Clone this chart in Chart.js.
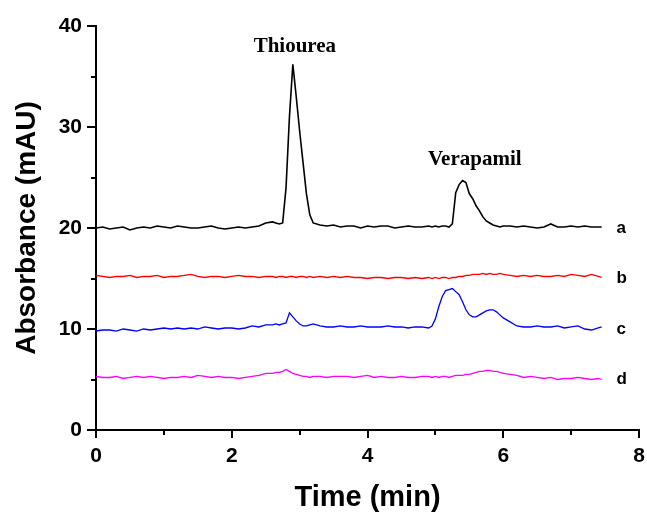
<!DOCTYPE html>
<html>
<head>
<meta charset="utf-8">
<script src="https://cdn.jsdelivr.net/npm/chart.js@4.4.0/dist/chart.umd.min.js"></script>
<style>
  html, body { margin: 0; padding: 0; background: #fff; }
</style>
</head>
<body>
<canvas id="chromatogram" width="647" height="512"></canvas>
<script>
// retention time (min), shared by all four traces
const times = [
  0, 0.1, 0.2, 0.3, 0.4, 0.5, 0.6, 0.7, 0.8, 0.9, 1.0, 1.1, 1.2, 1.3, 1.4, 1.5, 1.6, 1.7, 1.8, 1.9, 2.0, 2.1, 2.2, 2.3, 2.4, 2.5,
  2.6, 2.65, 2.7, 2.75, 2.8, 2.85, 2.9, 2.95, 3.0, 3.05, 3.1, 3.15, 3.2,
  3.3, 3.4, 3.5, 3.6, 3.7, 3.8, 3.9, 4.0, 4.1, 4.2, 4.3, 4.4, 4.5, 4.6, 4.7, 4.8, 4.9,
  4.95, 5.0, 5.05, 5.1, 5.15, 5.2, 5.25, 5.3, 5.35, 5.4, 5.45, 5.5, 5.55, 5.6, 5.65, 5.7, 5.75, 5.8, 5.85, 5.9, 5.95, 6.0,
  6.1, 6.2, 6.3, 6.4, 6.5, 6.6, 6.7, 6.8, 6.9, 7.0, 7.1, 7.2, 7.3, 7.4, 7.45
];

// absorbance (mAU) for traces a-d
const traceA = [
  20.0, 20.1, 19.9, 20.0, 20.1, 19.8, 20.0, 20.1, 20.0, 20.2, 20.1, 20.0, 20.2, 20.1, 20.0, 20.0, 20.1, 20.2, 20.0, 19.9, 20.0, 20.1, 20.0, 20.1, 20.2, 20.5,
  20.6, 20.5, 20.4, 20.5, 24.0, 31.0, 36.2, 33.0, 29.6, 26.5, 23.4, 21.3, 20.5,
  20.3, 20.2, 20.3, 20.1, 20.2, 20.2, 20.0, 20.2, 20.1, 20.2, 20.2, 20.0, 20.1, 20.2, 20.1, 20.1, 20.2,
  20.1, 20.2, 20.1, 20.2, 20.2, 20.1, 20.4, 23.5, 24.3, 24.7, 24.5, 23.4, 22.9, 22.2, 21.7, 21.1, 20.7, 20.5, 20.3, 20.2, 20.1, 20.2,
  20.2, 20.1, 20.2, 20.1, 20.0, 20.1, 20.4, 20.1, 20.1, 20.2, 20.1, 20.2, 20.1, 20.1, 20.1
];
const traceB = [
  15.3, 15.2, 15.1, 15.2, 15.2, 15.3, 15.1, 15.2, 15.2, 15.3, 15.1, 15.2, 15.2, 15.3, 15.4, 15.2, 15.1, 15.2, 15.2, 15.1, 15.2, 15.3, 15.2, 15.2, 15.1, 15.2,
  15.2, 15.1, 15.2, 15.2, 15.1, 15.2, 15.2, 15.1, 15.2, 15.2, 15.1, 15.2, 15.1,
  15.2, 15.1, 15.2, 15.1, 15.2, 15.1, 15.1, 15.0, 15.1, 15.1, 15.0, 15.1, 15.1, 15.0, 15.1, 15.0, 15.1,
  15.0, 15.1, 15.0, 15.1, 15.1, 15.0, 15.1, 15.1, 15.2, 15.2, 15.3, 15.3, 15.4, 15.4, 15.4, 15.5, 15.4, 15.5, 15.4, 15.4, 15.5, 15.4,
  15.3, 15.2, 15.3, 15.2, 15.3, 15.2, 15.2, 15.3, 15.2, 15.4, 15.3, 15.2, 15.4, 15.2, 15.1
];
const traceC = [
  9.8, 9.9, 9.9, 9.8, 10.0, 9.9, 9.8, 10.0, 9.9, 10.0, 10.1, 10.0, 10.1, 10.0, 10.1, 10.0, 10.2, 10.1, 10.0, 10.1, 10.1, 10.0, 10.1, 10.3, 10.2, 10.4,
  10.4, 10.5, 10.4, 10.5, 10.6, 11.6, 11.2, 10.8, 10.5, 10.3, 10.3, 10.4, 10.5,
  10.3, 10.2, 10.2, 10.3, 10.2, 10.2, 10.3, 10.2, 10.2, 10.2, 10.3, 10.2, 10.2, 10.1, 10.2, 10.2, 10.1,
  10.3, 11.0, 12.2, 13.2, 13.8, 13.9, 14.0, 13.7, 13.4, 12.7, 11.9, 11.4, 11.2, 11.2, 11.4, 11.6, 11.8, 11.9, 11.9, 11.7, 11.4, 11.1,
  10.7, 10.3, 10.2, 10.2, 10.3, 10.2, 10.2, 10.3, 10.1, 10.2, 10.3, 10.0, 9.9, 10.1, 10.2
];
const traceD = [
  5.3, 5.2, 5.2, 5.3, 5.1, 5.2, 5.3, 5.2, 5.3, 5.2, 5.1, 5.2, 5.2, 5.3, 5.2, 5.4, 5.3, 5.2, 5.3, 5.2, 5.2, 5.1, 5.2, 5.3, 5.4, 5.6,
  5.6, 5.7, 5.7, 5.8, 6.0, 5.8, 5.6, 5.5, 5.4, 5.3, 5.3, 5.2, 5.3,
  5.3, 5.2, 5.3, 5.3, 5.3, 5.2, 5.3, 5.4, 5.2, 5.3, 5.2, 5.2, 5.3, 5.2, 5.2, 5.3, 5.3,
  5.2, 5.3, 5.2, 5.3, 5.3, 5.2, 5.3, 5.4, 5.4, 5.4, 5.5, 5.5, 5.6, 5.7, 5.8, 5.8, 5.9, 5.9, 5.8, 5.8, 5.7, 5.6,
  5.5, 5.4, 5.2, 5.3, 5.2, 5.1, 5.2, 5.0, 5.1, 5.1, 5.2, 5.1, 5.0, 5.1, 5.0
];

const traceNames = ['a', 'b', 'c', 'd'];
const traceColors = ['#000000', '#ff0000', '#0000ff', '#ff00ff'];
const traceLabelX = 7.67;
const traceLabelY = [20.0, 15.0, 10.0, 5.0];

// peak labels: name, time, absorbance where the text sits
const peakNames = ['Thiourea', 'Verapamil'];
const peakLabelX = [2.93, 5.58];
const peakLabelY = [37.4, 26.2];

const xMinorTicks = [1, 3, 5, 7];
const yMinorTicks = [5, 15, 25, 35];

const sansBold = 'Arial, "Liberation Sans", Helvetica, sans-serif';

const traces = [traceA, traceB, traceC, traceD];
const datasets = traces.map((vals, i) => ({
  label: traceNames[i],
  data: times.map((t, k) => ({ x: t, y: vals[k] })),
  borderColor: traceColors[i],
  borderWidth: i === 0 ? 1.6 : 1.3,
  pointRadius: 0,
  fill: false,
  tension: 0
}));

const textPlugin = {
  id: 'chromText',
  afterDraw(chart) {
    const { ctx } = chart;
    const x = chart.scales.x;
    const y = chart.scales.y;
    ctx.save();

    // minor ticks
    ctx.strokeStyle = '#000';
    ctx.lineWidth = 2;
    xMinorTicks.forEach(v => {
      const px = Math.round(x.getPixelForValue(v));
      ctx.beginPath();
      ctx.moveTo(px, y.bottom);
      ctx.lineTo(px, y.bottom + 5);
      ctx.stroke();
    });
    yMinorTicks.forEach(v => {
      const py = Math.round(y.getPixelForValue(v));
      ctx.beginPath();
      ctx.moveTo(x.left - 5, py);
      ctx.lineTo(x.left, py);
      ctx.stroke();
    });

    // trace letters
    ctx.fillStyle = '#000';
    ctx.font = 'bold 17px ' + sansBold;
    ctx.textAlign = 'left';
    ctx.textBaseline = 'middle';
    traceNames.forEach((n, i) => {
      ctx.fillText(n, x.getPixelForValue(traceLabelX), y.getPixelForValue(traceLabelY[i]));
    });

    // peak names
    ctx.font = 'bold 21px "Times New Roman", "Liberation Serif", serif';
    ctx.textAlign = 'center';
    ctx.textBaseline = 'alphabetic';
    peakNames.forEach((n, i) => {
      ctx.fillText(n, x.getPixelForValue(peakLabelX[i]), y.getPixelForValue(peakLabelY[i]));
    });
    ctx.restore();
  }
};

new Chart(document.getElementById('chromatogram').getContext('2d'), {
  type: 'line',
  data: { datasets },
  options: {
    responsive: false,
    animation: false,
    layout: { padding: { top: 26, right: 8, left: 0, bottom: 0 } },
    plugins: {
      legend: { display: false },
      tooltip: { enabled: false }
    },
    scales: {
      x: {
        type: 'linear',
        min: 0,
        max: 8,
        afterFit(scale) {
          scale.height = 82;
          scale.paddingLeft = 0;
          scale.paddingRight = 0;
        },
        border: { display: true, color: '#000', width: 2 },
        grid: { display: true, drawOnChartArea: false, drawTicks: true, tickLength: 8, color: '#000', lineWidth: 2 },
        ticks: {
          stepSize: 2,
          padding: 6,
          color: '#000',
          maxRotation: 0,
          font: { family: sansBold, size: 21, weight: 'bold' }
        },
        title: {
          display: true,
          text: 'Time (min)',
          color: '#000',
          padding: { top: 0, bottom: 0 },
          font: { family: sansBold, size: 29, weight: 'bold', lineHeight: 1 }
        }
      },
      y: {
        min: 0,
        max: 40,
        afterFit(scale) {
          scale.width = 96;
          scale.paddingTop = 0;
          scale.paddingBottom = 0;
        },
        border: { display: true, color: '#000', width: 2 },
        grid: { display: true, drawOnChartArea: false, drawTicks: true, tickLength: 9, color: '#000', lineWidth: 2 },
        ticks: {
          stepSize: 10,
          padding: 5,
          color: '#000',
          font: { family: sansBold, size: 21, weight: 'bold' }
        },
        title: {
          display: true,
          text: 'Absorbance (mAU)',
          color: '#000',
          padding: { top: 10, bottom: 0 },
          font: { family: sansBold, size: 28, weight: 'bold', lineHeight: 1.2 }
        }
      }
    }
  },
  plugins: [textPlugin]
});
</script>
</body>
</html>
